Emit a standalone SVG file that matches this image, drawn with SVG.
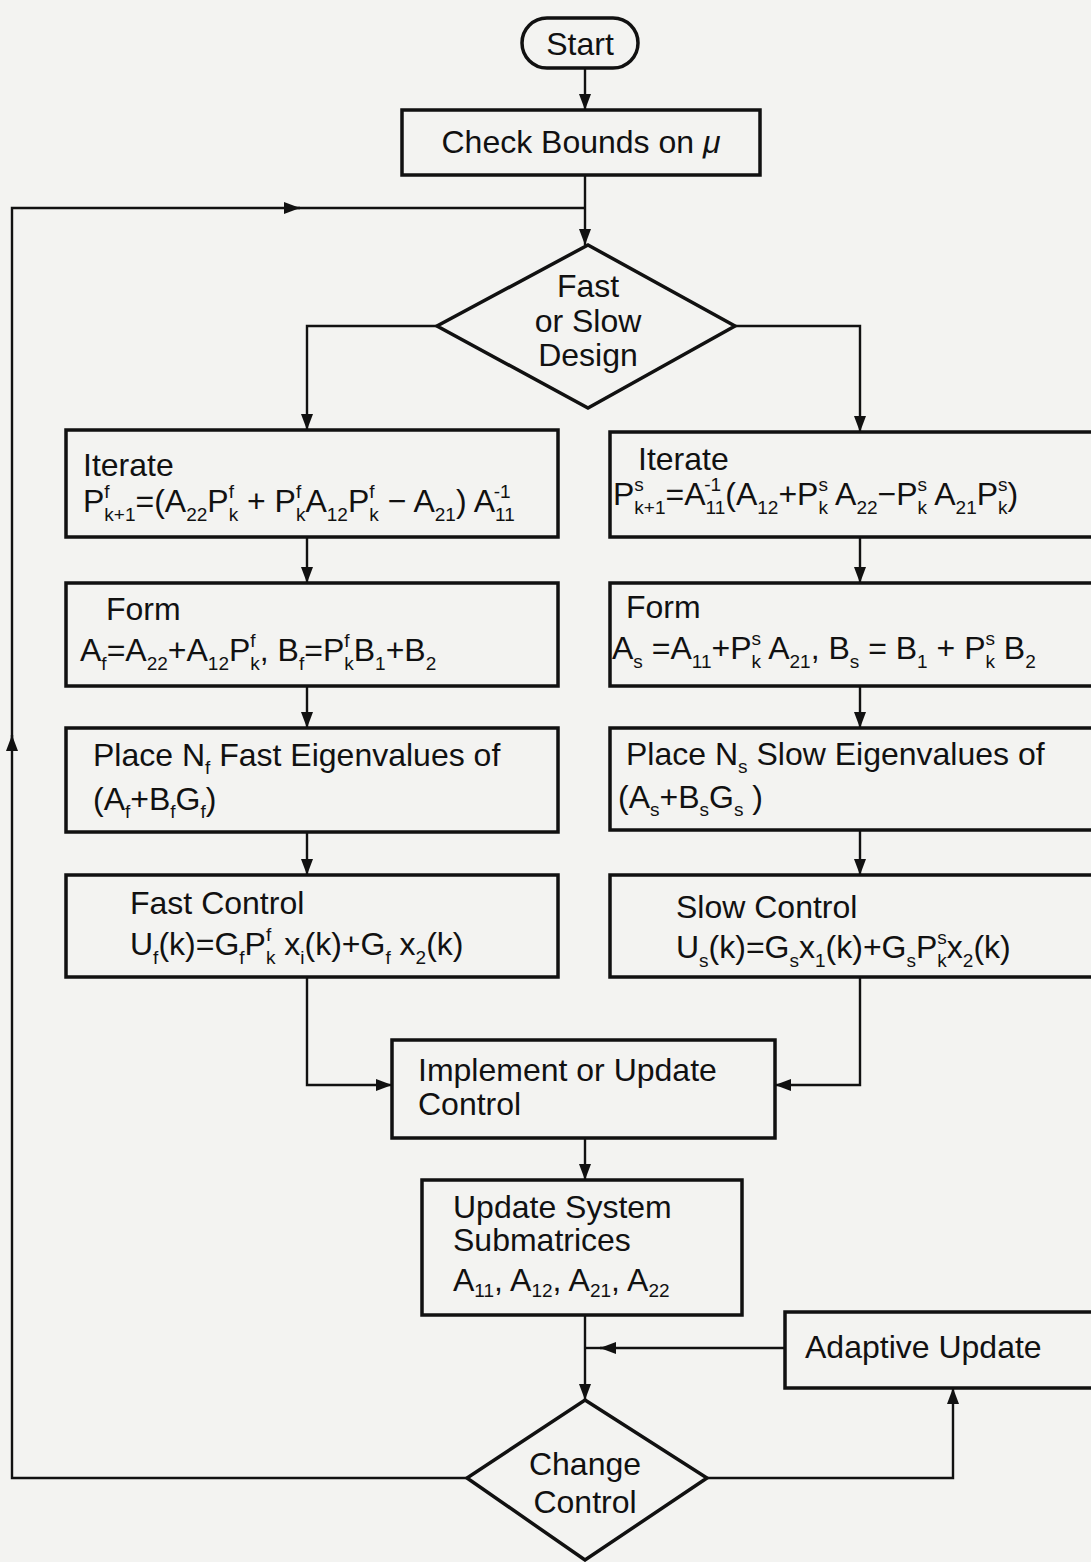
<svg xmlns="http://www.w3.org/2000/svg" width="1091" height="1562" viewBox="0 0 1091 1562">
<style>
.t{font-family:"Liberation Sans",Arial,sans-serif;font-size:32px;fill:#111}
.s{font-size:19px}
.box{fill:none;stroke:#111;stroke-width:3.5}
.c{fill:none;stroke:#111;stroke-width:2.4}
</style>
<defs>
<marker id="ah" viewBox="0 0 16 12" refX="16" refY="6" markerWidth="16" markerHeight="12" markerUnits="userSpaceOnUse" orient="auto">
<path d="M0,0 L16,6 L0,12 z" fill="#111"/>
</marker>
</defs>
<rect width="1091" height="1562" fill="#f3f3f1"/>

<g id="connectors">
<path class="c" d="M585,68 V110" marker-end="url(#ah)"/>
<path class="c" d="M585,175 V245" marker-end="url(#ah)"/>
<path class="c" d="M467,1478 H12 V735" marker-end="url(#ah)"/>
<path class="c" d="M12,740 V208 H300" marker-end="url(#ah)"/>
<path class="c" d="M295,208 H585"/>
<path class="c" d="M437,326 H307 V430" marker-end="url(#ah)"/>
<path class="c" d="M735,326 H860 V432" marker-end="url(#ah)"/>
<path class="c" d="M307,537 V583" marker-end="url(#ah)"/>
<path class="c" d="M307,686 V728" marker-end="url(#ah)"/>
<path class="c" d="M307,832 V875" marker-end="url(#ah)"/>
<path class="c" d="M860,537 V583" marker-end="url(#ah)"/>
<path class="c" d="M860,686 V728" marker-end="url(#ah)"/>
<path class="c" d="M860,830 V875" marker-end="url(#ah)"/>
<path class="c" d="M307,977 V1085 H392" marker-end="url(#ah)"/>
<path class="c" d="M860,977 V1085 H775" marker-end="url(#ah)"/>
<path class="c" d="M585,1138 V1180" marker-end="url(#ah)"/>
<path class="c" d="M585,1315 V1400" marker-end="url(#ah)"/>
<path class="c" d="M785,1348 H600" marker-end="url(#ah)"/>
<path class="c" d="M605,1348 H585"/>
<path class="c" d="M707,1478 H953 V1388" marker-end="url(#ah)"/>
</g>

<g id="start">
<rect class="box" x="522" y="18" width="116" height="50" rx="25"/>
<text class="t" x="580" y="55" text-anchor="middle">Start</text>
</g>

<g id="check-bounds">
<rect class="box" x="402" y="110" width="358" height="65"/>
<text class="t" x="581" y="153" text-anchor="middle">Check Bounds on <tspan font-style="italic">μ</tspan></text>
</g>

<g id="fast-or-slow">
<polygon class="box" points="588,245 735,326 588,408 437,326"/>
<text class="t" x="588" y="297" text-anchor="middle">Fast</text>
<text class="t" x="588" y="332" text-anchor="middle">or Slow</text>
<text class="t" x="588" y="366" text-anchor="middle">Design</text>
</g>

<g id="iterate-fast">
<rect class="box" x="66" y="430" width="492" height="107"/>
<text class="t" x="83" y="476">Iterate</text>
<text class="t" x="83" y="512">P<tspan class="s" dy="9">k+1</tspan><tspan class="s" dx="-31.2" dy="-23">f</tspan><tspan dx="25.9" dy="14">=(A</tspan><tspan class="s" dy="9">22</tspan><tspan dy="-9">P</tspan><tspan class="s" dy="9">k</tspan><tspan class="s" dx="-9.5" dy="-23">f</tspan><tspan dx="4.2" dy="14"> + P</tspan><tspan class="s" dy="9">k</tspan><tspan class="s" dx="-9.5" dy="-23">f</tspan><tspan dx="4.2" dy="14">A</tspan><tspan class="s" dy="9">12</tspan><tspan dy="-9">P</tspan><tspan class="s" dy="9">k</tspan><tspan class="s" dx="-9.5" dy="-23">f</tspan><tspan dx="4.2" dy="14"> − A</tspan><tspan class="s" dy="9">21</tspan><tspan dy="-9">) A</tspan><tspan class="s" dy="9">11</tspan><tspan class="s" dx="-21.1" dy="-23">-1</tspan></text>
</g>

<g id="iterate-slow">
<rect class="box" x="610" y="432" width="500" height="105"/>
<text class="t" x="638" y="470">Iterate</text>
<text class="t" x="613" y="505">P<tspan class="s" dy="9">k+1</tspan><tspan class="s" dx="-31.2" dy="-23">s</tspan><tspan dx="21.7" dy="14">=A</tspan><tspan class="s" dy="9">11</tspan><tspan class="s" dx="-21.1" dy="-23">-1</tspan><tspan dx="4.2" dy="14">(A</tspan><tspan class="s" dy="9">12</tspan><tspan dy="-9">+P</tspan><tspan class="s" dy="9">k</tspan><tspan class="s" dx="-9.5" dy="-23">s</tspan><tspan dy="14"> A</tspan><tspan class="s" dy="9">22</tspan><tspan dy="-9">−P</tspan><tspan class="s" dy="9">k</tspan><tspan class="s" dx="-9.5" dy="-23">s</tspan><tspan dy="14"> A</tspan><tspan class="s" dy="9">21</tspan><tspan dy="-9">P</tspan><tspan class="s" dy="9">k</tspan><tspan class="s" dx="-9.5" dy="-23">s</tspan><tspan dy="14">)</tspan></text>
</g>

<g id="form-fast">
<rect class="box" x="66" y="583" width="492" height="103"/>
<text class="t" x="106" y="620">Form</text>
<text class="t" x="80" y="661">A<tspan class="s" dy="9">f</tspan><tspan dy="-9">=A</tspan><tspan class="s" dy="9">22</tspan><tspan dy="-9">+A</tspan><tspan class="s" dy="9">12</tspan><tspan dy="-9">P</tspan><tspan class="s" dy="9">k</tspan><tspan class="s" dx="-9.5" dy="-23">f</tspan><tspan dx="4.2" dy="14">, B</tspan><tspan class="s" dy="9">f</tspan><tspan dy="-9">=P</tspan><tspan class="s" dy="9">k</tspan><tspan class="s" dx="-9.5" dy="-23">f</tspan><tspan dx="4.2" dy="14">B</tspan><tspan class="s" dy="9">1</tspan><tspan dy="-9">+B</tspan><tspan class="s" dy="9">2</tspan></text>
</g>

<g id="form-slow">
<rect class="box" x="610" y="583" width="500" height="103"/>
<text class="t" x="626" y="618">Form</text>
<text class="t" x="612" y="659">A<tspan class="s" dy="9">s</tspan><tspan dy="-9"> =A</tspan><tspan class="s" dy="9">11</tspan><tspan dy="-9">+P</tspan><tspan class="s" dy="9">k</tspan><tspan class="s" dx="-9.5" dy="-23">s</tspan><tspan dy="14"> A</tspan><tspan class="s" dy="9">21</tspan><tspan dy="-9">, B</tspan><tspan class="s" dy="9">s</tspan><tspan dy="-9"> = B</tspan><tspan class="s" dy="9">1</tspan><tspan dy="-9"> + P</tspan><tspan class="s" dy="9">k</tspan><tspan class="s" dx="-9.5" dy="-23">s</tspan><tspan dy="14"> B</tspan><tspan class="s" dy="9">2</tspan></text>
</g>

<g id="place-fast">
<rect class="box" x="66" y="728" width="492" height="104"/>
<text class="t" x="93" y="766">Place N<tspan class="s" dy="8">f</tspan><tspan dy="-8"> Fast Eigenvalues of</tspan></text>
<text class="t" x="93" y="810">(A<tspan class="s" dy="8">f</tspan><tspan dy="-8">+B</tspan><tspan class="s" dy="8">f</tspan><tspan dy="-8">G</tspan><tspan class="s" dy="8">f</tspan><tspan dy="-8">)</tspan></text>
</g>

<g id="place-slow">
<rect class="box" x="610" y="728" width="500" height="102"/>
<text class="t" x="626" y="765">Place N<tspan class="s" dy="8">s</tspan><tspan dy="-8"> Slow Eigenvalues of</tspan></text>
<text class="t" x="618" y="808">(A<tspan class="s" dy="8">s</tspan><tspan dy="-8">+B</tspan><tspan class="s" dy="8">s</tspan><tspan dy="-8">G</tspan><tspan class="s" dy="8">s</tspan><tspan dy="-8"> )</tspan></text>
</g>

<g id="fast-control">
<rect class="box" x="66" y="875" width="492" height="102"/>
<text class="t" x="130" y="914">Fast Control</text>
<text class="t" x="130" y="955">U<tspan class="s" dy="9">f</tspan><tspan dy="-9">(k)=G</tspan><tspan class="s" dy="9">f</tspan><tspan dy="-9">P</tspan><tspan class="s" dy="9">k</tspan><tspan class="s" dx="-9.5" dy="-23">f</tspan><tspan dx="4.2" dy="14"> x</tspan><tspan class="s" dy="9">i</tspan><tspan dy="-9">(k)+G</tspan><tspan class="s" dy="9">f</tspan><tspan dy="-9"> x</tspan><tspan class="s" dy="9">2</tspan><tspan dy="-9">(k)</tspan></text>
</g>

<g id="slow-control">
<rect class="box" x="610" y="875" width="500" height="102"/>
<text class="t" x="676" y="918">Slow Control</text>
<text class="t" x="676" y="958">U<tspan class="s" dy="9">s</tspan><tspan dy="-9">(k)=G</tspan><tspan class="s" dy="9">s</tspan><tspan dy="-9">x</tspan><tspan class="s" dy="9">1</tspan><tspan dy="-9">(k)+G</tspan><tspan class="s" dy="9">s</tspan><tspan dy="-9">P</tspan><tspan class="s" dy="9">k</tspan><tspan class="s" dx="-9.5" dy="-23">s</tspan><tspan dy="14">x</tspan><tspan class="s" dy="9">2</tspan><tspan dy="-9">(k)</tspan></text>
</g>

<g id="implement">
<rect class="box" x="392" y="1040" width="383" height="98"/>
<text class="t" x="418" y="1081">Implement or Update</text>
<text class="t" x="418" y="1115">Control</text>
</g>

<g id="update-system">
<rect class="box" x="422" y="1180" width="320" height="135"/>
<text class="t" x="453" y="1218">Update System</text>
<text class="t" x="453" y="1251">Submatrices</text>
<text class="t" x="453" y="1291">A<tspan class="s" dy="6">11</tspan><tspan dy="-6">, A</tspan><tspan class="s" dy="6">12</tspan><tspan dy="-6">, A</tspan><tspan class="s" dy="6">21</tspan><tspan dy="-6">, A</tspan><tspan class="s" dy="6">22</tspan></text>
</g>

<g id="adaptive-update">
<rect class="box" x="785" y="1312" width="320" height="76"/>
<text class="t" x="805" y="1358">Adaptive Update</text>
</g>

<g id="change-control">
<polygon class="box" points="585,1400 707,1478 585,1560 467,1478"/>
<text class="t" x="585" y="1475" text-anchor="middle">Change</text>
<text class="t" x="585" y="1513" text-anchor="middle">Control</text>
</g>
</svg>
